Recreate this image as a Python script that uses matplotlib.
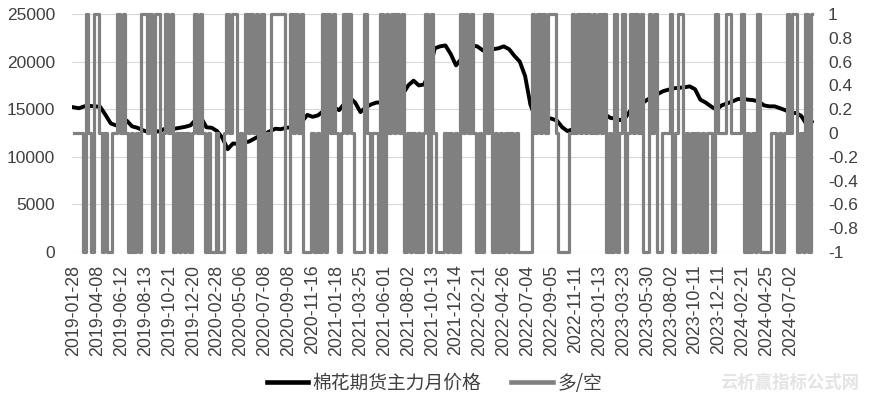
import matplotlib
matplotlib.use("Agg")
import matplotlib.pyplot as plt
from matplotlib.lines import Line2D
import numpy as np

# x-axis: one unit = 5 trading days, a tick label every 9 units
tick_labels = [
    "2019-01-28", "2019-04-08", "2019-06-12", "2019-08-13", "2019-10-21",
    "2019-12-20", "2020-02-28", "2020-05-06", "2020-07-08", "2020-09-08",
    "2020-11-16", "2021-01-18", "2021-03-25", "2021-06-01", "2021-08-02",
    "2021-10-13", "2021-12-14", "2022-02-21", "2022-04-26", "2022-07-04",
    "2022-09-05", "2022-11-11", "2023-01-13", "2023-03-23", "2023-05-30",
    "2023-08-02", "2023-10-11", "2023-12-11", "2024-02-21", "2024-04-25",
    "2024-07-02",
]

# cotton futures main contract price, one reading every 2 units (10 trading days)
price = [
    15200, 15100, 15300, 15350, 15300, 15250, 14400, 13500, 13300, 13500,
    13800, 13200, 13050, 12800, 12600, 12750, 12650, 12900, 13000, 12950,
    13050, 13150, 13300, 13900, 14100, 13100, 13050, 12700, 12000, 10800,
    11400, 11350, 11500, 11600, 11900, 12200, 12400, 12700, 12950, 12900,
    13050, 13100, 13250, 13700, 14400, 14200, 14350, 14800, 15100, 15200,
    14900, 15600, 16200, 15700, 14700, 15200, 15500, 15700, 15700, 15600,
    15700, 15900, 16600, 17500, 18000, 17500, 17600, 19000, 21400, 21600,
    21700, 20800, 19600, 20300, 21300, 21700, 21600, 21200, 20900, 21300,
    21400, 21600, 21300, 20600, 20000, 18500, 15500, 14000, 14000, 14100,
    14000, 13800, 13100, 12700, 12900, 13400, 13700, 13900, 14200, 14600,
    14500, 14100, 14000, 13850, 14200, 15000, 15300, 15600, 16000, 16300,
    16600, 16900, 17050, 17200, 17250, 17300, 17400, 17100, 16000, 15700,
    15300, 14950, 15400, 15600, 15800, 16050, 16100, 16000, 15950, 15800,
    15400, 15300, 15300, 15100, 14900, 14600, 14600, 14300, 13400, 13700,
]

# long/short signal, one char per unit: + = 1, 0 = 0, - = -1 (one row per tick interval)
signal_rows = [
    "0000-+0-+", "+0-0--00+", "0+0-0-0-+", "+0+-++-0+", "0+-0-0-0-",
    "0+0+0-0--", "0--0+0++-", "0-+0+0+-+", "-0-+++++-", "-+0+0+---",
    "0-0-+-+0+", "0-0+0+0--", "--+0-00-+", "-+0+0+0+-", "0-0-0-0+-",
    "+0---0-0-", "0-+0+0+0-", "0-+0+-0-0", "-0-0-0---", "--+0+0+0+",
    "++0----0+", "0+0+0+0+0", "+0+-0-+-0", "+-0+0+0+-", "-+0+--000",
    "+-0++-0-0", "-0-0-00-+", "000++0000", "+-0-0-+--", "--00-0-0+",
    "0++-0-+-+",
]

price_label = "棉花期货主力月价格"
signal_label = "多/空"

sig_map = {"+": 1, "0": 0, "-": -1}
signal = np.array([sig_map[c] for row in signal_rows for c in row])
x_sig = np.arange(len(signal))
x_price = np.arange(len(price)) * 2

text_color = "#404040"
gray = "#808080"

fig = plt.figure(figsize=(8.69, 3.99), dpi=100)
ax1 = fig.add_axes([0.0829, 0.3684, 0.8538, 0.5965])
ax2 = ax1.twinx()

ax1.plot(x_price, price, color="black", lw=2.8, solid_joinstyle="round")
ax2.plot(x_sig, signal, color=gray, lw=2.3, drawstyle="steps-mid", clip_on=False)

ax1.set_xlim(-0.6, 278.8)
ax1.set_ylim(0, 25000)
ax1.set_yticks(range(0, 25001, 5000))
ax2.set_ylim(-1, 1)
rticks = np.round(np.linspace(-1, 1, 11), 1)
ax2.set_yticks(rticks)
ax2.set_yticklabels(["%g" % v for v in rticks])

ax1.set_xticks(np.arange(0, len(signal), 9))
ax1.set_xticklabels(tick_labels, rotation=90)

ax1.yaxis.grid(True, color="#d9d9d9", lw=0.8)
ax1.set_axisbelow(True)
for ax in (ax1, ax2):
    for s in ax.spines.values():
        s.set_visible(False)
ax1.tick_params(axis="x", length=0, pad=9, labelsize=12.8, labelcolor=text_color)
ax1.tick_params(axis="y", length=0, pad=12, labelsize=12.5, labelcolor=text_color)
ax2.tick_params(axis="y", length=0, pad=10, labelsize=12.5, labelcolor=text_color)
for lab in ax1.get_xticklabels() + ax1.get_yticklabels() + ax2.get_yticklabels():
    lab.set_family("Liberation Sans")

handles = [Line2D([], [], color="black", lw=3.3), Line2D([], [], color=gray, lw=3.3)]
fig.legend(handles, [price_label, signal_label], loc="center",
           bbox_to_anchor=(0.5, 0.04), ncol=2, frameon=False,
           prop={"family": ["Noto Sans CJK SC", "DejaVu Sans"], "size": 13.5},
           labelcolor=text_color, handlelength=2.2, handletextpad=0.25,
           columnspacing=1.6)

fig.text(0.909, 0.04, "云析赢指标公式网", ha="center", va="center",
         family=["Noto Sans CJK SC", "DejaVu Sans"], size=12.5,
         weight="bold", color="#e4e4e4")

fig.savefig("out.png", dpi=100)
